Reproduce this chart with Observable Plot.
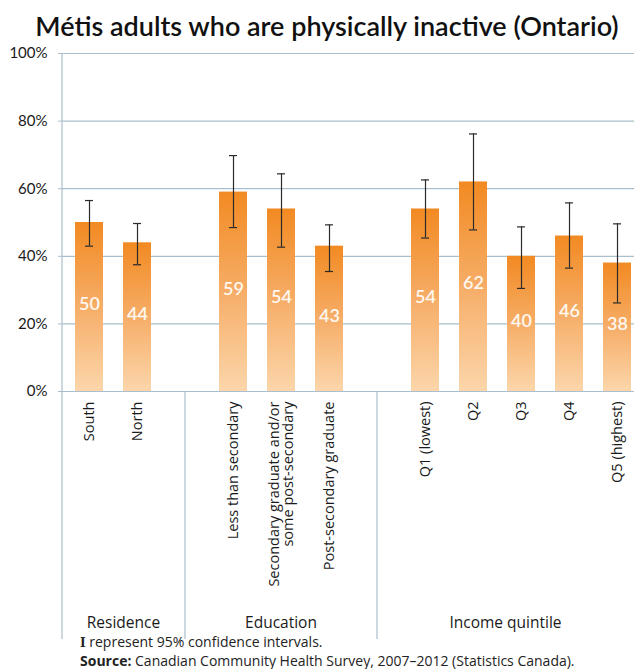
<!DOCTYPE html>
<html>
<head>
<meta charset="utf-8">
<script src="https://cdn.jsdelivr.net/npm/d3@7"></script>
<script src="https://cdn.jsdelivr.net/npm/@observablehq/plot@0.6"></script>
<style>
  html, body { margin: 0; padding: 0; background: #fff; }
  body { width: 634px; height: 669px; overflow: hidden; font-family: Lato, "Open Sans", sans-serif; color: #1a1a1a; }
  #title { height: 45px; line-height: 52px; text-align: center; padding-left: 20px; box-sizing: border-box;
           font-size: 27px; font-weight: 600; color: #111; white-space: nowrap; }
  #chart svg { overflow: visible; display: block; }
  #footer { padding-left: 80px; padding-top: 2px; font-family: "Open Sans", sans-serif; font-size: 14px; line-height: 17px; color: #222; white-space: nowrap; }
  #footer .ci { font-family: "DejaVu Serif", serif; font-weight: bold; font-size: 12px; }
</style>
</head>
<body>
<div id="title">Métis adults who are physically inactive (Ontario)</div>
<div id="chart"></div>
<div id="footer">
  <div><span class="ci">I</span> represent 95% confidence intervals.</div>
  <div><b>Source:</b> Canadian Community Health Survey, 2007–2012 (Statistics Canada).</div>
</div>
<script>
// ---- data ----
const categories = ["South", "North", "Less than secondary", "Secondary graduate and/or\nsome post-secondary", "Post-secondary graduate", "Q1 (lowest)", "Q2", "Q3", "Q4", "Q5 (highest)"];
const groupOf = ["Residence", "Residence", "Education", "Education", "Education", "Income quintile", "Income quintile", "Income quintile", "Income quintile", "Income quintile"];
const values = [50, 44, 59, 54, 43, 54, 62, 40, 46, 38];
const lower = [43, 37.5, 48.5, 42.7, 35.5, 45.4, 47.8, 30.5, 36.5, 26.2];
const upper = [56.5, 49.7, 69.8, 64.4, 49.3, 62.6, 76.2, 48.7, 55.8, 49.6];
const groups = ["Residence", "Education", "Income quintile"];
const yTicks = [0, 20, 40, 60, 80, 100];

const data = categories.map((c, i) => ({category: c, group: groupOf[i], value: values[i], lo: lower[i], hi: upper[i]}));

// domain with a blank slot between groups
const gapKey = g => "gap:" + g;
const domain = [];
groups.forEach((g, gi) => {
  if (gi > 0) domain.push(gapKey(g));
  categories.forEach((c, i) => { if (groupOf[i] === g) domain.push(c); });
});

const gridColor = "#a9bfcd";
const W = 634, H = 586, mTop = 8, mBottom = 240, mLeft = 62;
const sansB = "'Open Sans', Lato, sans-serif";

// gradient definition
const defs = () => {
  const d = d3.create("svg:defs");
  const lg = d.append("linearGradient").attr("id", "barGrad").attr("x1", 0).attr("y1", 0).attr("x2", 0).attr("y2", 1);
  lg.append("stop").attr("offset", "0%").attr("stop-color", "#f28a22");
  lg.append("stop").attr("offset", "50%").attr("stop-color", "#f6ad67");
  lg.append("stop").attr("offset", "100%").attr("stop-color", "#fcd6ab");
  return d.node();
};

// frame lines and group separators extending below the axis, plus group labels
const structure = (index, scales, values_, dims) => {
  const x = scales.x;
  const bw = typeof x.bandwidth === "function" ? x.bandwidth() : x.bandwidth;
  const g = d3.create("svg:g");
  const top = dims.marginTop;
  const bottom = dims.height - dims.marginBottom;
  const lineEnd = dims.height + 8;
  const seps = groups.slice(1).map(gr => x(gapKey(gr)) + bw / 2);
  g.append("line").attr("x1", dims.marginLeft).attr("x2", dims.marginLeft)
    .attr("y1", top).attr("y2", lineEnd).attr("stroke", gridColor).attr("stroke-width", 1.2);
  seps.forEach(s => g.append("line").attr("x1", s).attr("x2", s)
    .attr("y1", bottom).attr("y2", lineEnd).attr("stroke", gridColor).attr("stroke-width", 1.2));
  const bounds = [dims.marginLeft, ...seps, dims.width];
  groups.forEach((gr, i) => {
    g.append("text").attr("x", (bounds[i] + bounds[i + 1]) / 2).attr("y", dims.height - 3)
      .attr("text-anchor", "middle").attr("font-size", 15.5).attr("font-family", sansB)
      .attr("fill", "#1a1a1a").text(gr);
  });
  return g.node();
};

const chart = Plot.plot({
  width: W,
  height: H,
  marginTop: mTop,
  marginBottom: mBottom,
  marginLeft: mLeft,
  marginRight: 0,
  style: {fontFamily: "Lato, 'Open Sans', sans-serif", fontSize: "15px", color: "#1a1a1a", background: "transparent"},
  x: {domain, range: [64, 642], paddingInner: 0.42, paddingOuter: 0.21, label: null},
  y: {domain: [0, 100], label: null},
  marks: [
    defs,
    Plot.ruleY(yTicks, {stroke: gridColor, strokeWidth: 1.2}),
    Plot.axisY(yTicks, {tickSize: 4, tickPadding: 11, tickFormat: d => d + "%", stroke: gridColor, fontSize: 15, label: null}),
    Plot.axisX({tickSize: 0, tickPadding: 10, tickRotate: -90, fontSize: 14.5, fontFamily: sansB, label: null,
                tickFormat: d => d.startsWith("gap:") ? "" : d}),
    Plot.barY(data, {x: "category", y: "value", fill: "url(#barGrad)"}),
    Plot.text(data, {x: "category", y: d => d.value / 2, dy: -3, text: d => String(d.value),
                     fill: "#fff8f0", fontSize: 18, fontWeight: 600}),
    Plot.ruleX(data, {x: "category", y1: "lo", y2: "hi", stroke: "#2a2a2a", strokeWidth: 1.2}),
    Plot.tickY(data, {x: "category", y: "lo", stroke: "#2a2a2a", strokeWidth: 1.2, insetLeft: 10, insetRight: 10}),
    Plot.tickY(data, {x: "category", y: "hi", stroke: "#2a2a2a", strokeWidth: 1.2, insetLeft: 10, insetRight: 10}),
    structure
  ]
});
document.getElementById("chart").appendChild(chart);
</script>
</body>
</html>
